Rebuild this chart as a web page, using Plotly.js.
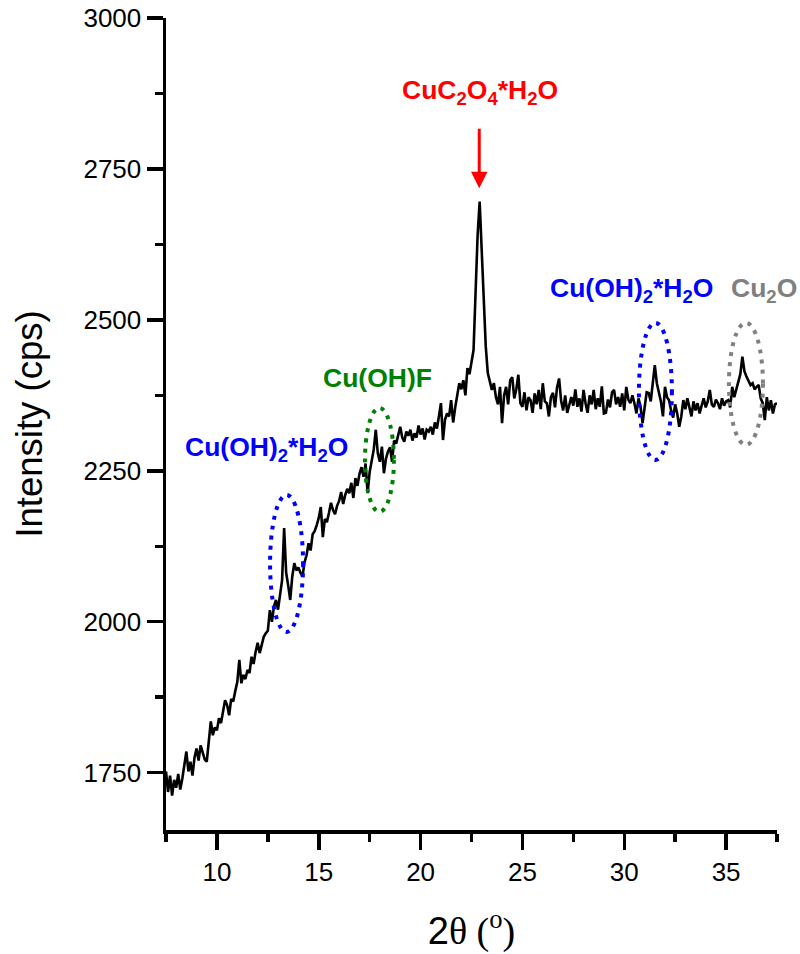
<!DOCTYPE html>
<html>
<head>
<meta charset="utf-8">
<script src="https://cdn.plot.ly/plotly-3.0.1.min.js"></script>
<style>html,body{margin:0;padding:0;background:#fff;}#chart{width:800px;height:954px;}</style>
</head>
<body>
<div id="chart"></div>
<script>
// 2-theta scan: start, step and intensities (cps)
const twoThetaStart = 7.5;
const twoThetaStep = 0.1;
const intensity = [
  1752, 1718, 1745, 1712, 1738, 1725, 1748, 1722, 1740, 1760,
  1785, 1752, 1768, 1745, 1775, 1790, 1770, 1795, 1782, 1772,
  1768, 1800, 1835, 1812, 1825, 1820, 1840, 1832, 1852, 1870,
  1862, 1845, 1872, 1868, 1885, 1900, 1937, 1898, 1912, 1905,
  1920, 1915, 1942, 1930, 1950, 1965, 1948, 1960, 1975, 1981,
  1985, 2019, 2000, 2025, 2036, 2020, 2050, 2069, 2155, 2081,
  2060, 2036, 2075, 2097, 2085, 2090, 2081, 2075, 2098, 2110,
  2130, 2118, 2145, 2150, 2160, 2172, 2190, 2140, 2170, 2165,
  2180, 2197, 2185, 2178, 2192, 2200, 2215, 2195, 2210, 2220,
  2213, 2230, 2205, 2238, 2225, 2245, 2256, 2240, 2262, 2213,
  2248, 2270, 2285, 2318, 2279, 2265, 2290, 2246, 2270, 2282,
  2289, 2265, 2300, 2295, 2310, 2323, 2305, 2298, 2315, 2308,
  2318, 2300, 2312, 2305, 2325, 2310, 2320, 2302, 2318, 2315,
  2323, 2310, 2330, 2320, 2340, 2362, 2301, 2335, 2345, 2340,
  2367, 2330, 2355, 2372, 2395, 2385, 2400, 2375, 2420, 2410,
  2428, 2450, 2545, 2640, 2696, 2620, 2520, 2456, 2412, 2400,
  2384, 2395, 2372, 2360, 2389, 2329, 2375, 2389, 2360, 2400,
  2405, 2370, 2385, 2409, 2362, 2356, 2380, 2350, 2372, 2367,
  2346, 2378, 2360, 2384, 2352, 2395, 2365, 2362, 2340, 2372,
  2379, 2355, 2388, 2403, 2366, 2350, 2375, 2346, 2360, 2372,
  2358, 2385, 2356, 2370, 2348, 2384, 2362, 2346, 2375, 2360,
  2384, 2352, 2370, 2356, 2390, 2345, 2346, 2368, 2355, 2380,
  2384, 2360, 2372, 2356, 2378, 2350, 2389, 2368, 2362, 2375,
  2362, 2345, 2370, 2356, 2329, 2360, 2380, 2379, 2365, 2395,
  2425, 2395, 2379, 2365, 2340, 2389, 2372, 2367, 2350, 2338,
  2360, 2345, 2323, 2340, 2367, 2352, 2370, 2356, 2340, 2365,
  2350, 2362, 2345, 2358, 2370, 2355, 2365, 2384, 2360, 2356,
  2368, 2362, 2352, 2370, 2358, 2365, 2367, 2355, 2389, 2372,
  2385, 2400, 2410, 2439, 2415, 2406, 2398, 2392, 2395, 2385,
  2389, 2392, 2370, 2362, 2334, 2372, 2350, 2367, 2345, 2360,
  2362
];
const twoTheta = intensity.map((_, i) => +(twoThetaStart + i * twoThetaStep).toFixed(2));

// annotation labels
const peakLabels = ["CuC<sub>2</sub>O<sub>4</sub>*H<sub>2</sub>O", "Cu(OH)<sub>2</sub>*H<sub>2</sub>O", "Cu(OH)F", "Cu(OH)<sub>2</sub>*H<sub>2</sub>O", "Cu<sub>2</sub>O"];
const labelColors = ["#ff0000", "#0000ff", "#008000", "#0000ff", "#808080"];

const xTickLabels = ["10", "15", "20", "25", "30", "35"];
const yTickLabels = ["1750", "2000", "2250", "2500", "2750", "3000"];

const font = "Arial, 'Liberation Sans', sans-serif";

const trace = {
  x: twoTheta, y: intensity, type: 'scatter', mode: 'lines',
  line: {color: '#000', width: 2.6}, hoverinfo: 'skip'
};

const ellipse = (x0, x1, y0, y1, color) => ({
  type: 'circle', xref: 'x', yref: 'y', x0, x1, y0, y1,
  line: {color, width: 4, dash: '4px,6px'}
});

const labelFont = (c) => ({size: 26.5, color: c, family: font});

const layout = {
  width: 800, height: 954,
  margin: {l: 166, r: 23, t: 18, b: 124},
  paper_bgcolor: '#fff', plot_bgcolor: '#fff',
  showlegend: false,
  font: {family: font, color: '#000'},
  xaxis: {
    range: [7.5, 37.5], showgrid: false, zeroline: false,
    showline: true, linecolor: '#000', linewidth: 3.5,
    ticks: 'outside', ticklen: 16, tickwidth: 3.5, tickcolor: '#000',
    tickvals: xTickLabels.map(Number), ticktext: xTickLabels,
    minor: {ticks: 'outside', ticklen: 8, tickwidth: 3.5, tickcolor: '#000', dtick: 2.5, tick0: 7.5, showgrid: false},
    tickfont: {size: 26, family: font},
    title: {text: "2<span style='font-family:Times New Roman, Liberation Serif, serif'>θ (<sup>o</sup>)</span>", font: {size: 38, family: font}, standoff: 32}
  },
  yaxis: {
    range: [1655, 3000], showgrid: false, zeroline: false,
    showline: true, linecolor: '#000', linewidth: 3.5,
    ticks: 'outside', ticklen: 16, tickwidth: 3.5, tickcolor: '#000',
    tickvals: yTickLabels.map(Number), ticktext: yTickLabels,
    minor: {ticks: 'outside', ticklen: 8, tickwidth: 3.5, tickcolor: '#000', dtick: 125, tick0: 1750, showgrid: false},
    tickfont: {size: 26, family: font},
    title: {text: "Intensity (cps)", font: {size: 36.5, family: font}, standoff: 30}
  },
  annotations: [
    {x: 22.88, y: 2718, ax: 0, ay: -61, xref: 'x', yref: 'y', text: '', showarrow: true,
     arrowcolor: labelColors[0], arrowwidth: 3, arrowhead: 2, arrowsize: 1.1, standoff: 0},
    {x: 22.9, y: 2878, xref: 'x', yref: 'y', text: "<b>" + peakLabels[0] + "</b>", showarrow: false,
     font: labelFont(labelColors[0])},
    {x: 12.43, y: 2286, xref: 'x', yref: 'y', text: "<b>" + peakLabels[1] + "</b>", showarrow: false,
     font: labelFont(labelColors[1])},
    {x: 17.86, y: 2404, xref: 'x', yref: 'y', text: "<b>" + peakLabels[2] + "</b>", showarrow: false,
     font: labelFont(labelColors[2])},
    {x: 30.35, y: 2549, xref: 'x', yref: 'y', text: "<b>" + peakLabels[3] + "</b>", showarrow: false,
     font: labelFont(labelColors[3])},
    {x: 36.86, y: 2549, xref: 'x', yref: 'y', text: "<b>" + peakLabels[4] + "</b>", showarrow: false,
     font: labelFont(labelColors[4])}
  ],
  shapes: [
    ellipse(12.61, 14.23, 1983, 2210, '#0000ff'),
    ellipse(17.27, 18.69, 2182, 2354, '#008000'),
    ellipse(30.72, 32.34, 2268, 2495, '#0000ff'),
    ellipse(35.14, 36.81, 2293, 2495, '#808080')
  ]
};

Plotly.newPlot('chart', [trace], layout, {staticPlot: true, displayModeBar: false});
</script>
</body>
</html>
